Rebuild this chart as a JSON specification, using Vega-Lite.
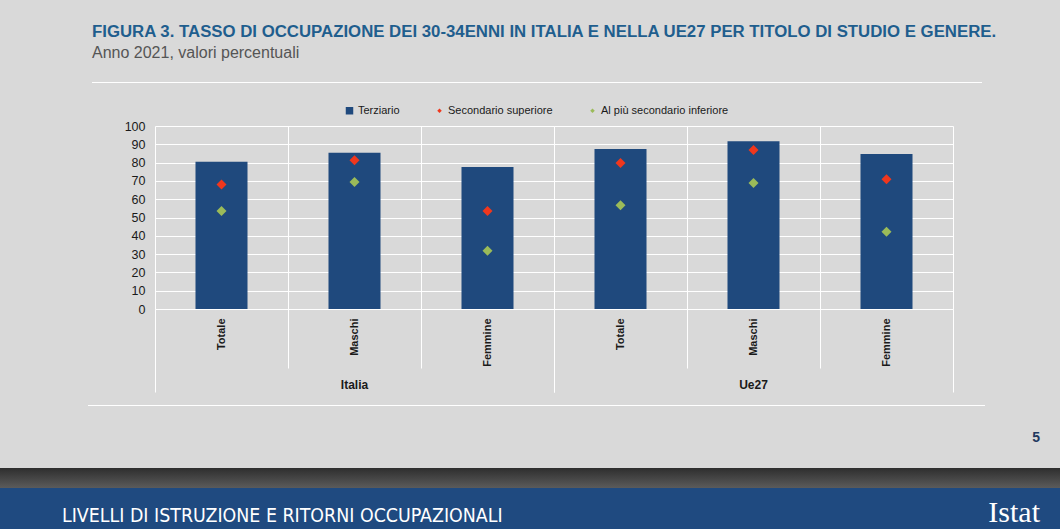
{
  "$schema": "https://vega.github.io/schema/vega-lite/v6.json",
  "background": "#d9d9d9",
  "padding": {"left": 0, "top": 24, "right": 0, "bottom": 0},
  "title": {
    "text": "FIGURA 3. TASSO DI OCCUPAZIONE DEI 30-34ENNI IN ITALIA E NELLA UE27 PER TITOLO DI STUDIO E GENERE.",
    "subtitle": "Anno 2021, valori percentuali",
    "anchor": "start",
    "frame": "bounds",
    "dx": 92,
    "offset": 21,
    "font": "Liberation Sans",
    "fontSize": 16.8,
    "fontWeight": "bold",
    "color": "#1f5e8e",
    "subtitleFont": "Liberation Sans",
    "subtitleFontSize": 16,
    "subtitleColor": "#555555",
    "subtitlePadding": 4
  },
  "datasets": {
    "valori": [
      {"area": "Italia", "genere": "Totale", "serie": "Terziario", "valore": 80.5},
      {"area": "Italia", "genere": "Totale", "serie": "Secondario superiore", "valore": 68.0},
      {"area": "Italia", "genere": "Totale", "serie": "Al più secondario inferiore", "valore": 53.6},
      {"area": "Italia", "genere": "Maschi", "serie": "Terziario", "valore": 85.4},
      {"area": "Italia", "genere": "Maschi", "serie": "Secondario superiore", "valore": 81.3},
      {"area": "Italia", "genere": "Maschi", "serie": "Al più secondario inferiore", "valore": 69.4},
      {"area": "Italia", "genere": "Femmine", "serie": "Terziario", "valore": 77.6},
      {"area": "Italia", "genere": "Femmine", "serie": "Secondario superiore", "valore": 53.6},
      {"area": "Italia", "genere": "Femmine", "serie": "Al più secondario inferiore", "valore": 31.8},
      {"area": "Ue27", "genere": "Totale", "serie": "Terziario", "valore": 87.5},
      {"area": "Ue27", "genere": "Totale", "serie": "Secondario superiore", "valore": 79.8},
      {"area": "Ue27", "genere": "Totale", "serie": "Al più secondario inferiore", "valore": 56.7},
      {"area": "Ue27", "genere": "Maschi", "serie": "Terziario", "valore": 91.6},
      {"area": "Ue27", "genere": "Maschi", "serie": "Secondario superiore", "valore": 86.9},
      {"area": "Ue27", "genere": "Maschi", "serie": "Al più secondario inferiore", "valore": 68.9},
      {"area": "Ue27", "genere": "Femmine", "serie": "Terziario", "valore": 84.7},
      {"area": "Ue27", "genere": "Femmine", "serie": "Secondario superiore", "valore": 70.9},
      {"area": "Ue27", "genere": "Femmine", "serie": "Al più secondario inferiore", "valore": 42.2}
    ]
  },
  "columns": 1,
  "align": "none",
  "spacing": 12,
  "concat": [
    {
      "spacing": 0,
      "hconcat": [
        {"width": 92, "height": 1, "data": {"values": []}, "mark": "rect", "encoding": {}},
        {
          "width": 890,
          "height": 1,
          "view": {"fill": "#ffffff", "stroke": null},
          "data": {"values": []},
          "mark": "rect",
          "encoding": {},
          "title": {"text": " ", "orient": "bottom", "anchor": "start", "fontSize": 14, "offset": 11}
        }
      ]
    },
    {
      "spacing": 0,
      "hconcat": [
        {
          "width": 124,
          "height": 183,
          "data": {"values": []},
          "mark": "rect",
          "encoding": {}
        },
        {
          "data": {"name": "valori"},
          "facet": {
            "column": {
              "field": "area",
              "type": "nominal",
              "sort": ["Italia", "Ue27"],
              "header": {
                "title": null,
                "labelOrient": "bottom",
                "labelFont": "Liberation Sans",
                "labelFontSize": 12,
                "labelFontWeight": "bold",
                "labelColor": "#1a1a1a",
                "labelPadding": -13
              }
            }
          },
          "spacing": 0,
          "spec": {
            "width": 399,
            "height": 183,
            "encoding": {
              "x": {
                "field": "genere",
                "type": "nominal",
                "sort": ["Totale", "Maschi", "Femmine"],
                "scale": {"paddingInner": 0, "paddingOuter": 0},
                "axis": {
                  "title": null,
                  "labelAngle": -90,
                  "labelFont": "Liberation Sans",
                  "labelFontWeight": "bold",
                  "labelFontSize": 11,
                  "labelColor": "#1a1a1a",
                  "tickBand": "extent",
                  "tickColor": "white",
                  "tickWidth": 1,
                  "tickSize": {"condition": {"test": "datum.value === 'Femmine' || datum.value == null || datum.label === ''", "value": 83}, "value": 59},
                  "labelPadding": {"condition": {"test": "datum.value === 'Femmine' || datum.value == null || datum.label === ''", "value": -74}, "value": -50},
                  "domain": true,
                  "domainColor": "white",
                  "grid": true,
                  "gridColor": "white",
                  "gridWidth": 1
                }
              },
              "y": {
                "field": "valore",
                "type": "quantitative",
                "scale": {"domain": [0, 100], "nice": false},
                "axis": {
                  "title": null,
                  "values": [0, 10, 20, 30, 40, 50, 60, 70, 80, 90, 100],
                  "domain": false,
                  "ticks": false,
                  "grid": true,
                  "gridColor": "white",
                  "gridWidth": 1,
                  "labelFont": "Liberation Sans",
                  "labelFontSize": 12.5,
                  "labelColor": "#1a1a1a",
                  "labelPadding": 10
                }
              },
              "color": {
                "field": "serie",
                "type": "nominal",
                "scale": {
                  "domain": ["Terziario", "Secondario superiore", "Al più secondario inferiore"],
                  "range": ["#1f497d", "#f0371d", "#9bbb59"]
                },
                "legend": {
                  "title": null,
                  "orient": "none",
                  "legendX": 344,
                  "legendY": 23,
                  "direction": "horizontal",
                  "labelFont": "Liberation Sans",
                  "labelFontSize": 11,
                  "labelColor": "#1a1a1a",
                  "columnPadding": 34,
                  "labelOffset": 3,
                  "symbolStrokeWidth": 0,
                  "encode": {"symbols": {"update": {"size": {"signal": "datum.value === 'Terziario' ? 56 : 20"}}}}
                }
              }
            },
            "layer": [
              {
                "transform": [{"filter": "datum.serie === 'Terziario'"}],
                "mark": {"type": "bar", "size": 52}
              },
              {
                "transform": [{"filter": "datum.serie !== 'Terziario'"}],
                "mark": {"type": "point", "filled": true, "size": 100, "opacity": 1},
                "encoding": {
                  "shape": {
                    "field": "serie",
                    "type": "nominal",
                    "scale": {
                      "domain": ["Terziario", "Secondario superiore", "Al più secondario inferiore"],
                      "range": ["square", "diamond", "diamond"]
                    }
                  }
                }
              }
            ]
          }
        }
      ]
    },
    {
      "spacing": 0,
      "hconcat": [
        {"width": 88, "height": 1, "data": {"values": []}, "mark": "rect", "encoding": {}},
        {
          "width": 897,
          "height": 1,
          "view": {"fill": "#ffffff", "stroke": null},
          "data": {"values": []},
          "mark": "rect",
          "encoding": {},
          "title": {"text": " ", "orient": "bottom", "anchor": "start", "fontSize": 12, "offset": 2}
        }
      ]
    },
    {
      "spacing": 0,
      "hconcat": [
        {
          "width": 880,
          "height": 61,
          "view": {
            "stroke": null,
            "fill": {"gradient": "linear", "x1": 0, "y1": 0, "x2": 0, "y2": 1, "stops": [
              {"offset": 0, "color": "#2e2e2e"},
              {"offset": 0.32, "color": "#5a5a5a"},
              {"offset": 0.33, "color": "#1f4a80"},
              {"offset": 1, "color": "#1f4a80"}
            ]}
          },
          "data": {"values": []},
          "mark": "rect",
          "encoding": {},
          "title": {
            "text": "LIVELLI DI ISTRUZIONE E RITORNI OCCUPAZIONALI",
            "orient": "bottom",
            "anchor": "start",
            "frame": "bounds",
            "dx": 62,
            "offset": -22,
            "font": "DejaVu Sans Condensed, Liberation Sans, sans-serif",
            "fontSize": 19.4,
            "fontWeight": "normal",
            "color": "#ffffff"
          }
        },
        {
          "width": 180,
          "height": 61,
          "view": {
            "stroke": null,
            "fill": {"gradient": "linear", "x1": 0, "y1": 0, "x2": 0, "y2": 1, "stops": [
              {"offset": 0, "color": "#2e2e2e"},
              {"offset": 0.32, "color": "#5a5a5a"},
              {"offset": 0.33, "color": "#1f4a80"},
              {"offset": 1, "color": "#1f4a80"}
            ]}
          },
          "data": {"values": []},
          "mark": "rect",
          "encoding": {},
          "title": {
            "text": "5",
            "subtitle": "Istat",
            "orient": "top",
            "anchor": "end",
            "frame": "bounds",
            "dx": -20,
            "offset": -60,
            "font": "Liberation Sans",
            "fontSize": 14,
            "fontWeight": "bold",
            "color": "#1f3a5f",
            "subtitleFont": "Liberation Serif",
            "subtitleFontSize": 30,
            "subtitleColor": "#ffffff",
            "subtitlePadding": 53
          }
        }
      ]
    }
  ],
  "config": {
    "view": {"stroke": null}
  }
}
